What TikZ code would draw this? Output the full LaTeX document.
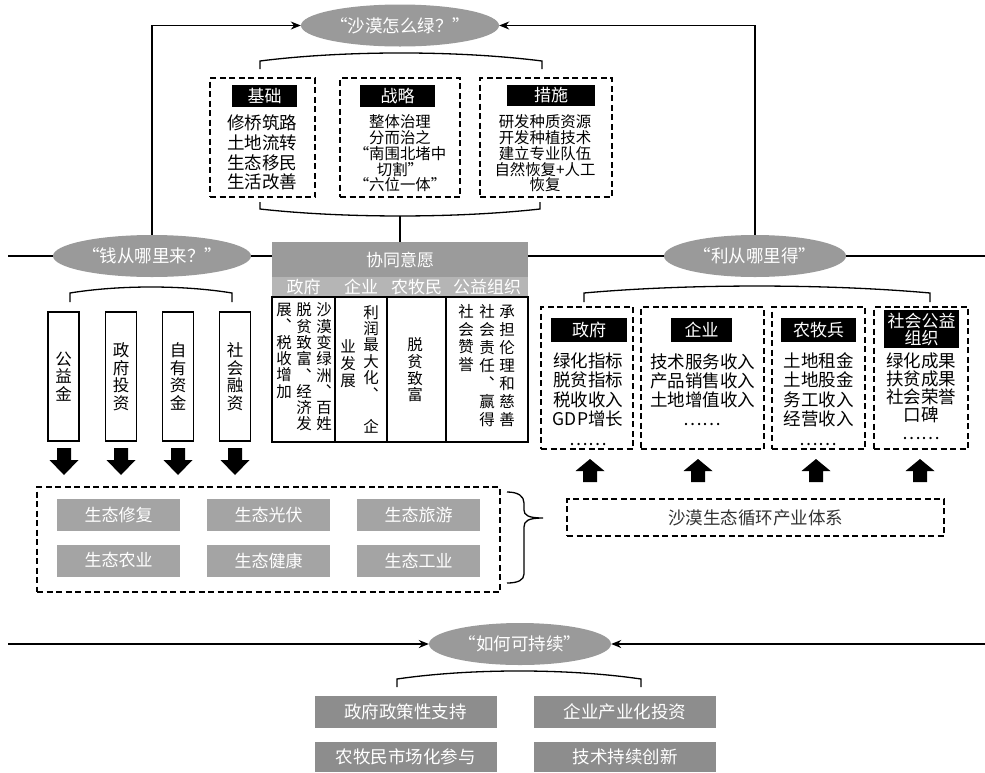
\documentclass[tikz,border=0pt]{standalone}
\usepackage{fontspec}
\setmainfont{Noto Sans CJK SC}
\usetikzlibrary{arrows.meta,shapes.geometric}
\definecolor{ellgray}{HTML}{9A9A9A}
\definecolor{hdgray}{HTML}{9B9B9B}
\definecolor{subgray}{HTML}{B5B5B5}
\definecolor{ecogray}{HTML}{A4A4A4}
\definecolor{botgray}{HTML}{8D8D8D}
\definecolor{txtdark}{HTML}{333333}
\newcommand{\myfs}[2]{\fontsize{#1}{#2}\selectfont\lineskiplimit=-50pt\relax}
\newcommand{\mybrace}[5]{\draw[brk] (#1,#3) -- (#1,#4) .. controls ({#1+(#2-#1)*0.3},#5) and ({#2-(#2-#1)*0.3},#5) .. (#2,#4) -- (#2,#3);}
\begin{document}
\begin{tikzpicture}[x=1pt,y=-1pt,
 conn/.style={line width=1.3pt},
 arr/.style={conn,-{Stealth[length=10pt,width=8pt]}},
 brk/.style={line width=1.3pt},
 q/.style={ellipse,fill=ellgray,minimum width=182pt,minimum height=42pt,inner sep=0pt,text=white,font=\myfs{17.5}{20}},
 dbox/.style={draw,line width=1.5pt,dash pattern=on 6pt off 3.5pt,inner sep=0pt},
 hdr/.style={fill=black,text=white,inner sep=0pt,align=center,font=\myfs{17}{17}},
 btxt/.style={align=center,inner sep=0pt},
 sub/.style={fill=subgray,text=white,inner sep=0pt,minimum height=20pt,font=\myfs{17}{20}},
 cellbox/.style={draw,line width=1.3pt,inner sep=0pt,minimum height=145pt},
 vtx/.style={align=center,inner sep=0pt},
 vbox/.style={draw,line width=1.5pt,minimum width=31pt,minimum height=129pt,inner sep=0pt,align=center,font=\myfs{16.5}{17.5}},
 ecob/.style={fill=ecogray,text=white,minimum width=123pt,minimum height=32pt,inner sep=0pt,font=\myfs{17}{20}},
 botb/.style={fill=botgray,text=white,minimum width=182pt,inner sep=0pt,font=\myfs{17.5}{20}},
 downarr/.pic={\fill (-7,0) -- (7,0) -- (7,12) -- (14.5,12) -- (0,27) -- (-14.5,12) -- (-7,12) -- cycle;},
 uparr/.pic={\fill (-7,0) -- (7,0) -- (7,-11) -- (14.5,-11) -- (0,-23) -- (-14.5,-11) -- (-7,-11) -- cycle;}
]
\useasboundingbox (0,0) rectangle (985,772);
\fill[white] (0,0) rectangle (985,772);

% background horizontal line
\coordinate (hl) at (8,256);
\coordinate (hr) at (985,256);
\draw[conn] (hl) -- (hr);

% question ellipses
\node[q] (qTop) at (400,25.5) {“沙漠怎么绿？”};
\node[q] (qL) at (152,256) {“钱从哪里来？”};
\node[q] (qR) at (755,256) {“利从哪里得”};
\node[q] (qB) at (520,644) {“如何可持续”};

\draw[arr] (qL.north) |- (qTop.west);
\draw[arr] (qR.north) |- (qTop.east);

% top boxes
\mybrace{260}{542}{69}{61}{50.3}
\node[dbox,minimum width=105pt,minimum height=119pt] (b1) at (262.5,137.5) {};
\node[dbox,minimum width=120pt,minimum height=119pt] (b2) at (400,137.5) {};
\node[dbox,minimum width=132pt,minimum height=119pt] (b3) at (546,137.5) {};
\node[hdr,minimum width=65pt,minimum height=22pt] (h1) at (264.5,96) {基础};
\node[hdr,minimum width=75pt,minimum height=22pt] (h2) at (397.5,96) {战略};
\node[hdr,minimum width=88pt,minimum height=21pt] (h3) at (551,95) {措施};
\node[btxt,font=\myfs{17.5}{19.7}] (t1) at (262,152.5) {修桥筑路\\土地流转\\生态移民\\生活改善};
\node[btxt,font=\myfs{15.4}{15.7}] (t2) at (400,153.5) {整体治理\\分而治之\\“南围北堵中\\切割”\\“六位一体”};
\node[btxt,font=\myfs{15.4}{15.7}] (t3) at (545,153.5) {研发种质资源\\开发种植技术\\建立专业队伍\\自然恢复+人工\\恢复};
\mybrace{260}{540}{202}{209}{218.3}
\coordinate (bjoin) at (400,216);

% table
\node[fill=hdgray,text=white,minimum width=256pt,minimum height=35pt,inner sep=0pt,font=\myfs{17}{20}] (tab) at (400,259.5) {协同意愿};
\draw[conn] (bjoin) -- (tab.north);
\node[sub,minimum width=63pt] (s1) at (303.5,287) {政府};
\node[sub,minimum width=52pt] (s2) at (361,287) {企业};
\node[sub,minimum width=59pt] (s3) at (416.5,287) {农牧民};
\node[sub,minimum width=82pt] (s4) at (487,287) {公益组织};
\node[cellbox,minimum width=63pt] (c1) at (303.5,369.5) {};
\node[cellbox,minimum width=52pt] (c2) at (361,369.5) {};
\node[cellbox,minimum width=59pt] (c3) at (416.5,369.5) {};
\node[cellbox,minimum width=82pt] (c4) at (487,369.5) {};
\node[vtx,font=\myfs{15.5}{16.3}] (c1r) at (324,367.05) {沙\\漠\\变\\绿\\洲\\︑\\百\\姓};
\node[vtx,font=\myfs{15.5}{16.3}] (c1m) at (304,367.05) {脱\\贫\\致\\富\\︑\\经\\济\\发};
\node[vtx,font=\myfs{15.5}{16.3}] (c1l) at (284,350.75) {展\\︑\\税\\收\\增\\加};
\node[vtx,font=\myfs{15.5}{16.4}] (c2r) at (371,369.4) {利\\润\\最\\大\\化\\︑\\\phantom{企}\\企};
\node[vtx,font=\myfs{15.5}{17}] (c2l) at (348,364) {业\\发\\展};
\node[vtx,font=\myfs{15.5}{16.7}] (c3t) at (415,370) {脱\\贫\\致\\富};
\node[vtx,font=\myfs{15.5}{18}] (c4r) at (507,366) {承\\担\\伦\\理\\和\\慈\\善};
\node[vtx,font=\myfs{15.5}{18}] (c4m) at (487,366) {社\\会\\责\\任\\︑\\赢\\得};
\node[vtx,font=\myfs{15.5}{17.5}] (c4l) at (466,338) {社\\会\\赞\\誉};

% left: money sources
\mybrace{70}{232}{302}{293}{285}
\node[vbox] (f1) at (63.5,376.5) {公\\益\\金};
\node[vbox] (f2) at (121,376.5) {政\\府\\投\\资};
\node[vbox] (f3) at (178,376.5) {自\\有\\资\\金};
\node[vbox] (f4) at (235,376.5) {社\\会\\融\\资};
\pic at (64,448) {downarr};
\pic at (121,448) {downarr};
\pic at (178,448) {downarr};
\pic at (235,448) {downarr};

% right: benefits
\mybrace{584}{930}{302}{293}{283.7}
\node[dbox,minimum width=92pt,minimum height=142pt] (r1) at (587,378) {};
\node[dbox,minimum width=123pt,minimum height=142pt] (r2) at (702.5,378) {};
\node[dbox,minimum width=93pt,minimum height=142pt] (r3) at (818.5,378) {};
\node[dbox,minimum width=94pt,minimum height=142pt] (r4) at (921,378) {};
\node[hdr,minimum width=76pt,minimum height=24pt] (rh1) at (589,330) {政府};
\node[hdr,minimum width=61pt,minimum height=24pt] (rh2) at (701.5,330) {企业};
\node[hdr,minimum width=75pt,minimum height=24pt] (rh3) at (818.5,330) {农牧兵};
\node[hdr,minimum width=75pt,minimum height=38pt] (rh4) at (921.5,329) {社会公益\\组织};
\node[btxt,font=\myfs{17.5}{19.5}] (rt1) at (588,399) {绿化指标\\脱贫指标\\税收收入\\GDP增长\\……};
\node[btxt,font=\myfs{17.5}{19}] (rt2) at (702.5,389.5) {技术服务收入\\产品销售收入\\土地增值收入\\……};
\node[btxt,font=\myfs{17.5}{19.5}] (rt3) at (818.5,399) {土地租金\\土地股金\\务工收入\\经营收入\\……};
\node[btxt,font=\myfs{17.5}{18}] (rt4) at (921,396) {绿化成果\\扶贫成果\\社会荣誉\\口碑\\……};
\pic at (590,482) {uparr};
\pic at (698,482) {uparr};
\pic at (816,482) {uparr};
\pic at (920,482) {uparr};

% eco industries
\node[dbox,minimum width=463pt,minimum height=105pt] (eco) at (268.5,539.5) {};
\node[ecob] (e1) at (118.5,515) {生态修复};
\node[ecob] (e2) at (268.5,515) {生态光伏};
\node[ecob] (e3) at (418.5,515) {生态旅游};
\node[ecob] (e4) at (118.5,560.5) {生态农业};
\node[ecob] (e5) at (268.5,560.5) {生态健康};
\node[ecob] (e6) at (418.5,560.5) {生态工业};
\draw[brk] (507,492) .. controls (518,492) and (524,496) .. (524,503) -- (524,510)
  .. controls (524,515) and (528,518) .. (543,518)
  .. controls (528,518) and (524,521) .. (524,527) -- (524,574)
  .. controls (524,580) and (518,583) .. (507,583);
\node[dbox,minimum width=377pt,minimum height=37pt,text=txtdark,font=\myfs{17.5}{20}] (cyc) at (755.5,517.5) {沙漠生态循环产业体系};

% sustainability
\coordinate (bl) at (8,644);
\coordinate (br) at (985,644);
\draw[arr] (bl) -- (qB.west);
\draw[arr] (br) -- (qB.east);
\mybrace{397}{641}{687}{679}{668.3}
\node[botb,minimum height=32pt] (g1) at (405.5,712) {政府政策性支持};
\node[botb,minimum height=32pt] (g2) at (625,712) {企业产业化投资};
\node[botb,minimum height=30pt] (g3) at (405.5,757) {农牧民市场化参与};
\node[botb,minimum height=30pt] (g4) at (625,757) {技术持续创新};
\end{tikzpicture}
\end{document}
